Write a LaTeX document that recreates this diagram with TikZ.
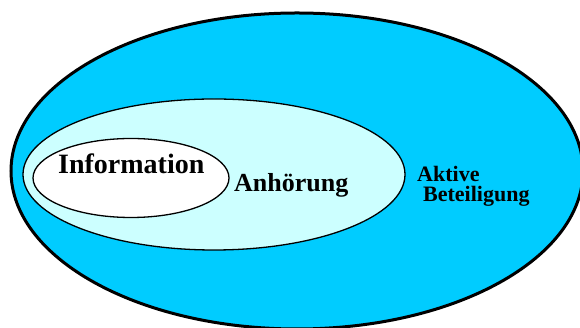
\documentclass[tikz,border=0pt]{standalone}
\usepackage{fontspec}
\setmainfont{Liberation Serif}
\definecolor{outerblue}{RGB}{0,204,255}
\definecolor{paleblue}{RGB}{204,255,255}
\begin{document}
\begin{tikzpicture}[x=1pt,y=1pt,
  ring/.style={draw=black},
  lbl/.style={inner sep=0pt,anchor=base west,font=\bfseries}]
\useasboundingbox (0,0) rectangle (580,328);
\clip (0,0) rectangle (580,328);
\path[ring,fill=outerblue,line width=3pt] (297,157) ellipse [x radius=286,y radius=158];
\path[ring,fill=paleblue,line width=1.3pt] (214,153.5) ellipse [x radius=191,y radius=75.5];
\path[ring,fill=white,line width=1.3pt] (131,150) ellipse [x radius=98,y radius=39.5];
\node[lbl,font=\fontsize{28}{30}\selectfont\bfseries] (info) at (58,154) {Information};
\node[lbl,font=\fontsize{26}{28}\selectfont\bfseries] (anh) at (234,136) {Anhörung};
\node[lbl,font=\fontsize{22}{24}\selectfont\bfseries] (akt) at (417,146.5) {Aktive};
\node[lbl,font=\fontsize{22}{24}\selectfont\bfseries] (bet) at (423,126.5) {Beteiligung};
\end{tikzpicture}
\end{document}
